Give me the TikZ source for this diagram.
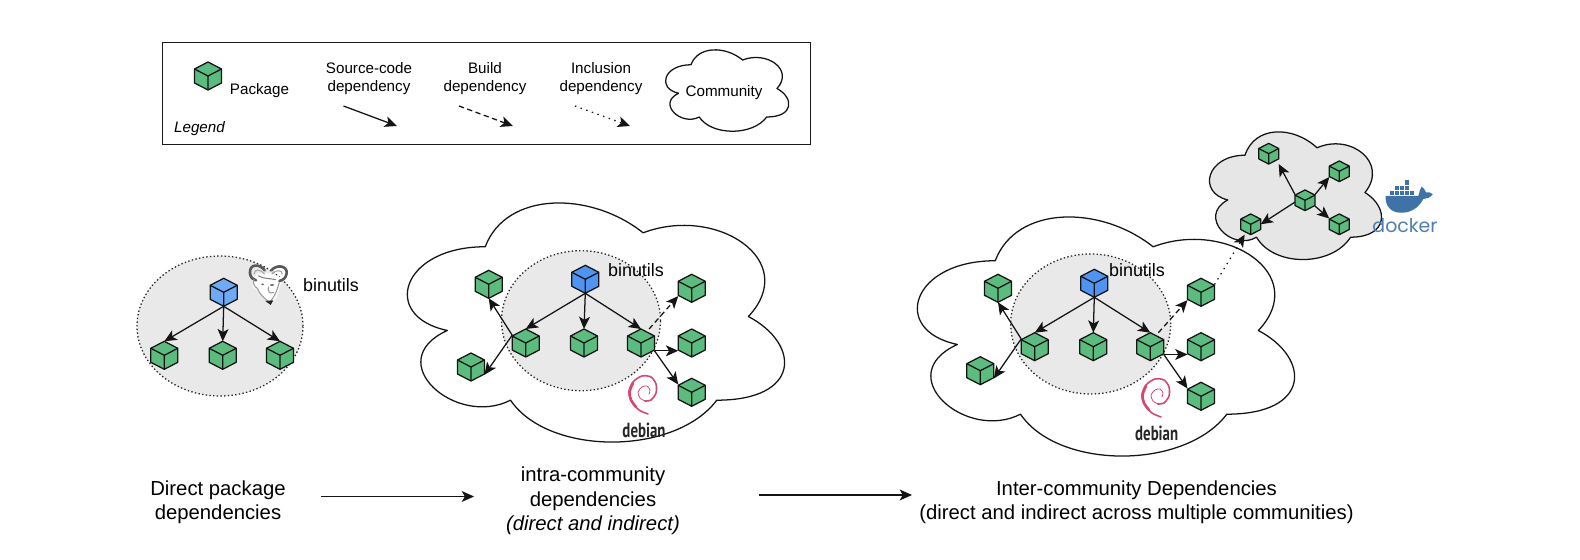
\documentclass[tikz,border=0pt]{standalone}
\usepackage{fontspec}
\setmainfont{Liberation Sans}
\newfontfamily\debfont{PT Sans}
\newfontfamily\dockfont{Poppins}
\usetikzlibrary{arrows.meta,calc,shapes.geometric}
\definecolor{pkggreen}{HTML}{5CBB7E}
\definecolor{pkgblue}{HTML}{6FAAF8}
\definecolor{pkgblued}{HTML}{4F94F3}
\definecolor{regiongrey}{HTML}{E9E9E9}
\definecolor{cloudgrey}{HTML}{E6E6E6}
\definecolor{debpink}{HTML}{D8476F}
\definecolor{dockblue}{HTML}{3F72A6}
\definecolor{docktext}{HTML}{4F80B2}
\tikzset{
  ink/.style={line width=0.72pt,draw=black!92,line join=round},
  cubenode/.style={rectangle,inner sep=0pt,outer sep=0pt},
  dep/.style={ink,-{Stealth[length=7pt,width=6.2pt,inset=1.8pt]}},
  buildpat/.style={dash pattern=on 3pt off 2pt},
  inclpat/.style={dash pattern=on 0.8pt off 2.6pt},
  region/.style={fill=regiongrey,draw=black!85,line width=0.72pt,dash pattern=on 0.8pt off 1.3pt},
  smalltxt/.style={align=center,inner sep=0pt,font=\fontsize{8.65pt}{10.3pt}\selectfont},
  bigtxt/.style={align=center,inner sep=0pt,font=\fontsize{11.55pt}{13.9pt}\selectfont},
  bintxt/.style={inner sep=0pt,font=\fontsize{10.2pt}{12pt}\selectfont},
  flow/.style={ink,-{Stealth[length=7pt,width=6.2pt,inset=1.8pt]}},
}
\newcommand{\pkgcube}[5]{%
  \node[cubenode,minimum width=#5*0.54cm,minimum height=#5*0.56cm] (#1) at (#2,#3) {};
  \begin{scope}[shift={(#2,#3)},scale=#5]
    \draw[ink,fill=#4] (0,-14) -- (13.5,-7) -- (13.5,7) -- (0,14) -- (-13.5,7) -- (-13.5,-7) -- cycle;
    \draw[ink] (-13.5,-7) -- (0,0) -- (13.5,-7) (0,0) -- (0,14);
  \end{scope}}
\newcommand{\cloudshape}[5]{%
  \begin{scope}[shift={(#1,#2)},xscale=#3,yscale=#4]
    \draw[ink,#5] (0.25,0.25) .. controls (0.05,0.25) and (0,0.5) .. (0.16,0.55)
      .. controls (0,0.66) and (0.18,0.9) .. (0.31,0.8)
      .. controls (0.4,1) and (0.7,1) .. (0.8,0.8)
      .. controls (1,0.8) and (1,0.6) .. (0.875,0.5)
      .. controls (1,0.3) and (0.8,0.1) .. (0.625,0.2)
      .. controls (0.5,0.05) and (0.3,0.05) .. (0.25,0.25) -- cycle;
  \end{scope}}
\newcommand{\debianlogo}[4]{%
  \begin{scope}[shift={(#1,#2)}]
    \draw[debpink,line width=0.9pt,line cap=round] plot[smooth] coordinates
      {(3,21) (-6,17) (-13,9) (-16,-1) (-12,-11) (-3,-17) (6,-16) (11,-9) (11,0) (6,7) (0,8)};
    \draw[debpink,line width=0.45pt,line cap=round] plot[smooth] coordinates
      {(0,8) (-5,5) (-7,-1) (-3,-6) (2,-7) (5,-3) (4,1)};
    \draw[debpink,line width=1.5pt,line cap=round] plot[smooth] coordinates
      {(-9,14) (-14,7) (-15.5,-1) (-12,-10)};
  \end{scope}
  \node[inner sep=0pt,xscale=0.73,font=\debfont\bfseries\fontsize{11.6pt}{12pt}\selectfont,text=black!85] at (#3,#4) {debian};}
\begin{document}
\begin{tikzpicture}[x=0.02cm,y=-0.02cm]
\useasboundingbox (0,0) rectangle (1580,560);
\fill[white] (0,0) rectangle (1580,560);

% ---------- legend
\node[draw=black!90,line width=0.72pt,fill=white,minimum width=648*0.02cm,minimum height=102*0.02cm,inner sep=0pt] (legendbox) at (486.5,93.5) {};
\pkgcube{lcube}{208}{76}{pkggreen}{1}
\node[smalltxt] (lpkg) at (259.5,91) {Package};
\node[smalltxt] (lsrc) at (369,79) {Source-code\\dependency};
\node[smalltxt] (lbld) at (485,79) {Build\\dependency};
\node[smalltxt] (linc) at (601,79) {Inclusion\\dependency};
\node[smalltxt,font=\fontsize{8.65pt}{10.3pt}\selectfont\itshape] (lleg) at (199.5,129) {Legend};
\coordinate (s1) at (343.5,106); \coordinate (s2) at (397,126);
\coordinate (b1) at (459,106); \coordinate (b2) at (513,126);
\coordinate (i1) at (575,106); \coordinate (i2) at (630,126);
\draw[dep] (s1) -- (s2);
\draw[dep,buildpat] (b1) -- (b2);
\draw[dep,inclpat] (i1) -- (i2);
\cloudshape{656.6}{41}{137.6}{95}{fill=white}
\node[smalltxt] (lcom) at (724,93) {Community};

% ---------- direct dependencies
\node[region,ellipse,minimum width=166*0.02cm,minimum height=140*0.02cm,inner sep=0pt] (regA) at (220,326) {};
% GNU head
\begin{scope}[shift={(240,255)},scale=1/3]
  \fill[white] (42,68) -- (55,55) -- (95,55) -- (128,70) -- (118,100) -- (108,130) -- (92,148) -- (70,128) -- (55,108) -- (38,95) -- cycle;
  \draw[black!65,line width=1.5pt,line cap=round] (74,46) .. controls (58,24) and (27,27) .. (30,55) .. controls (31,68) and (40,74) .. (48,76);
  \draw[black!65,line width=1.5pt,line cap=round] (94,46) .. controls (110,27) and (143,32) .. (140,55) .. controls (138,70) and (128,76) .. (118,78);
  \draw[black!35,line width=0.6pt] (74,58) .. controls (60,40) and (42,42) .. (42,58);
  \draw[black!35,line width=0.6pt] (95,58) .. controls (108,42) and (128,45) .. (127,58);
  \draw[black!40,line width=0.6pt] (42,72) .. controls (38,85) and (42,95) .. (52,100) .. controls (60,120) and (72,128) .. (88,142) .. controls (102,130) and (112,105) .. (118,82);
  \draw[black!50,line width=0.6pt] (55,62) .. controls (70,72) and (90,70) .. (108,74);
  \fill[black!55] (68,88) ellipse (5 and 3);
  \fill[black!55] (96,90) ellipse (6 and 3);
  \draw[black!40,line width=0.6pt] (85,95) .. controls (82,110) and (90,118) .. (102,112);
  \fill[black!85] (76,138) -- (100,136) -- (92,150) -- cycle;
\end{scope}
\pkgcube{a0}{223.7}{292.3}{pkgblue}{1}
\pkgcube{a1}{164.3}{355.3}{pkggreen}{1}
\pkgcube{a2}{222.7}{355.3}{pkggreen}{1}
\pkgcube{a3}{280}{355.3}{pkggreen}{1}
\draw[dep] (a0.south) -- (a1.north);
\draw[dep] (a0.south) -- (a2.north);
\draw[dep] (a0.south) -- (a3.north);
\node[bintxt] (binA) at (331,285) {binutils};

% ---------- intra-community
\cloudshape{380}{177}{421}{279}{fill=white}
\node[region,ellipse,minimum width=159*0.02cm,minimum height=140*0.02cm,inner sep=0pt] (regB) at (581,320.7) {};
\node[bintxt] (binB) at (636,270) {binutils};
\debianlogo{645}{393}{644}{430}
\pkgcube{b0}{585.3}{279.3}{pkgblued}{1}
\pkgcube{bl}{525.7}{343}{pkggreen}{1}
\pkgcube{bm}{584}{343}{pkggreen}{1}
\pkgcube{br}{641}{343}{pkggreen}{1}
\pkgcube{bt}{488.7}{284.3}{pkggreen}{1}
\pkgcube{bb}{471}{367}{pkggreen}{1}
\pkgcube{r1}{691.7}{288.3}{pkggreen}{1}
\pkgcube{r2}{691.7}{343}{pkggreen}{1}
\pkgcube{r3}{691.7}{392.3}{pkggreen}{1}
\draw[dep] (b0.south) -- (bl.north);
\draw[dep] (b0.south) -- (bm.north);
\draw[dep] (b0.south) -- (br.north);
\draw[dep] (bl.150) -- (bt.south);
\draw[dep] (bl.150) -- (bb.330);
\draw[dep,buildpat] (br.60) -- (r1.210);
\draw[dep] (br.330) -- (r2.210);
\draw[dep] (br.330) -- (r3.150);

% ---------- inter-community
\cloudshape{890}{191}{421}{279}{fill=white}
\node[region,ellipse,minimum width=160*0.02cm,minimum height=140*0.02cm,inner sep=0pt] (regC) at (1090.7,324) {};
\node[bintxt] (binC) at (1137,270) {binutils};
\debianlogo{1158}{396}{1156.7}{433}
\pkgcube{c0}{1094.3}{283.3}{pkgblued}{1}
\pkgcube{cl}{1034.7}{346.7}{pkggreen}{1}
\pkgcube{cm}{1093.3}{346.7}{pkggreen}{1}
\pkgcube{cr}{1150.3}{346.7}{pkggreen}{1}
\pkgcube{ct}{998}{288.3}{pkggreen}{1}
\pkgcube{cb}{980.3}{370.7}{pkggreen}{1}
\pkgcube{s1c}{1201}{292.3}{pkggreen}{1}
\pkgcube{s2c}{1201}{346.7}{pkggreen}{1}
\pkgcube{s3c}{1201}{396.3}{pkggreen}{1}
\draw[dep] (c0.south) -- (cl.north);
\draw[dep] (c0.south) -- (cm.north);
\draw[dep] (c0.south) -- (cr.north);
\draw[dep] (cl.150) -- (ct.south);
\draw[dep] (cl.150) -- (cb.330);
\draw[dep,buildpat] (cr.60) -- (s1c.210);
\draw[dep] (cr.330) -- (s2c.210);
\draw[dep] (cr.330) -- (s3c.150);

% ---------- docker community
\cloudshape{1197}{118}{192}{149}{fill=cloudgrey}
\pkgcube{d0}{1305}{200.3}{pkggreen}{0.74}
\pkgcube{d1}{1268.7}{153.7}{pkggreen}{0.74}
\pkgcube{d2}{1339.3}{171.3}{pkggreen}{0.74}
\pkgcube{d3}{1339.3}{224.3}{pkggreen}{0.74}
\pkgcube{d4}{1250.7}{224.3}{pkggreen}{0.74}
\draw[dep] (d0.150) -- (d1.south east);
\draw[dep] (d0.190) -- (d4.east);
\draw[dep] (d0.30) -- (d2.210);
\draw[dep] (d0.330) -- (d3.150);
\draw[dep,inclpat] (s1c.30) -- (d4.240);
% docker whale
\begin{scope}[shift={(1365,175)},scale=1/3]
  \fill[dockblue] (62,63) -- (160,63) .. controls (165,50) and (163,42) .. (170,35)
    .. controls (178,42) and (182,48) .. (183,52) .. controls (190,50) and (198,52) .. (203,58)
    .. controls (195,68) and (185,72) .. (175,72) .. controls (160,100) and (135,115) .. (105,113)
    .. controls (75,112) and (60,90) .. (62,63) -- cycle;
  \foreach \bx in {75,90,105,120,135} {\fill[dockblue] (\bx,47) rectangle ++(12.5,13);}
  \foreach \bx in {90,105,120} {\fill[dockblue] (\bx,32) rectangle ++(12.5,13);}
  \fill[dockblue] (120,16) rectangle ++(12.5,13);
\end{scope}
\node[inner sep=0pt,font=\dockfont\fontsize{10.8pt}{12pt}\selectfont,text=docktext] (dockername) at (1405,226) {docker};

% ---------- stage captions
\node[bigtxt] (capA) at (218,502.5) {Direct package\\dependencies};
\node[bigtxt] (capB) at (593,501) {intra-community\\dependencies\\{\itshape (direct and indirect)}};
\node[bigtxt] (capC) at (1136.5,502.5) {Inter-community Dependencies\\(direct and indirect across multiple communities)};
\coordinate (fa1) at (321,496.5); \coordinate (fa2) at (474,496.5);
\coordinate (fb1) at (759,495); \coordinate (fb2) at (912,495);
\draw[flow] (fa1) -- (fa2);
\draw[flow] (fb1) -- (fb2);
\end{tikzpicture}
\end{document}
